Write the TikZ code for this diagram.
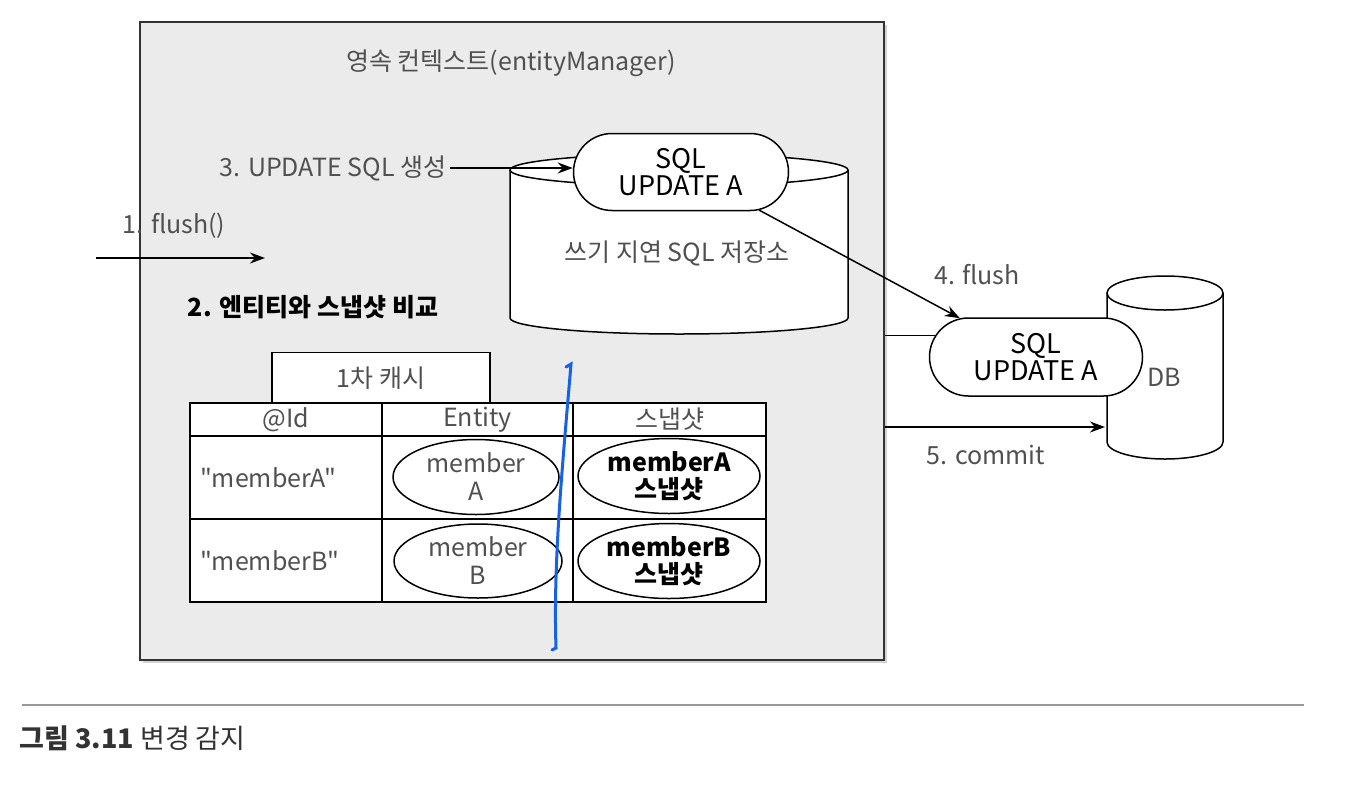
\documentclass[tikz,border=0pt]{standalone}
\usepackage{fontspec}
\setmainfont{Noto Sans CJK KR}[Ligatures=TeXOff]
\usetikzlibrary{shapes.geometric,shapes.misc,arrows.meta,shadows}
\definecolor{pcgray}{HTML}{EBEBEB}
\definecolor{txt}{HTML}{505050}
\definecolor{pen}{HTML}{1462E6}
% cylinder: centre x, top y, bottom y, x radius, y radius
\newcommand{\drum}[5]{%
  \draw[rim,fill=white] (#1-#4,#2) -- (#1-#4,#3) arc[start angle=180,end angle=0,x radius=#4,y radius=#5] -- (#1+#4,#2);
  \draw[rim,fill=white] (#1,#2) ellipse[x radius=#4,y radius=#5];}

\begin{document}
\begin{tikzpicture}[x=1pt,y=-1pt,font=\fontsize{25}{28}\selectfont,
    every node/.append style={text=txt},
    rim/.style={line width=1.5pt},
    box/.style={draw=black!80,line width=2.5pt,fill=pcgray,
      drop shadow={shadow xshift=3pt,shadow yshift=-3pt,opacity=.35}},
    pill/.style={rounded rectangle,draw,rim,fill=white,align=center,inner sep=0pt,
      text=black,font=\fontsize{27}{27}\selectfont},
    cell/.style={draw,line width=1.8pt,fill=white,inner sep=0pt},
    egg/.style={ellipse,draw,rim,fill=white,align=center,inner sep=0pt},
    arr/.style={-{Stealth[length=15pt,width=11pt]},line width=1.5pt}]
  \fill[white] (0,0) rectangle (1356,798);
  \useasboundingbox (0,0) rectangle (1356,798);
  % persistence context
  \node[box,minimum width=744pt,minimum height=638pt] (pc) at (512,341) {};
  \node (ttl) at (511,63) {영속 컨텍스트(entityManager)};
  % write-behind store
  \drum{679}{170}{318}{169}{16}
  \node (store) at (677,253) {쓰기 지연 SQL 저장소};
  \node[pill,minimum width=215pt,minimum height=77pt] (sql) at (681,172) {SQL\\UPDATE A};
  \node[anchor=east] (step3) at (450,168) {3. UPDATE SQL 생성};
  \draw[arr] (step3.east) -- (step3.east -| sql.west);
  \node (step1) at (174,226) {1. flush()};
  \coordinate (in0) at (96,258);
  \coordinate (in1) at (265,258);
  \draw[arr] (in0) -- (in1);
  \node[text=black,font=\fontsize{25}{28}\selectfont\bfseries] (step2) at (313,307) {2. 엔티티와 스냅샷 비교};
  % first-level cache
  \node[cell,minimum width=218pt,minimum height=51pt] (tab) at (381,378) {1차 캐시};
  \node[cell,minimum width=192pt,minimum height=33pt] (id0) at (286,419.5) {@Id};
  \node[cell,minimum width=191pt,minimum height=33pt] (ent0) at (477.5,419.5) {Entity};
  \node[cell,minimum width=193pt,minimum height=33pt] (snap0) at (669.5,419.5) {스냅샷};
  \node[cell,minimum width=192pt,minimum height=83pt,text width=172pt,align=left,inner xsep=10pt] (id1) at (286,477.5) {"memberA"};
  \node[cell,minimum width=191pt,minimum height=83pt] (ent1) at (477.5,477.5) {};
  \node[cell,minimum width=193pt,minimum height=83pt] (snap1) at (669.5,477.5) {};
  \node[cell,minimum width=192pt,minimum height=83pt,text width=172pt,align=left,inner xsep=10pt] (id2) at (286,560.5) {"memberB"};
  \node[cell,minimum width=191pt,minimum height=83pt] (ent2) at (477.5,560.5) {};
  \node[cell,minimum width=193pt,minimum height=83pt] (snap2) at (669.5,560.5) {};
  \node[egg,minimum width=166pt,minimum height=75pt] (ma) at (476,477) {member\\A};
  \node[egg,minimum width=168pt,minimum height=74pt] (mb) at (478,561) {member\\B};
  \node[egg,minimum width=182pt,minimum height=75pt,text=black,font=\fontsize{25}{27}\selectfont\bfseries] (sa) at (669,476) {memberA\\스냅샷};
  \node[egg,minimum width=182pt,minimum height=75pt,text=black,font=\fontsize{25}{27}\selectfont\bfseries] (sb) at (669,561) {memberB\\스냅샷};
  % database
  \drum{1165}{293}{442}{58}{17}
  \node[pill,minimum width=213pt,minimum height=78pt] (sql2) at (1036,357) {SQL\\UPDATE A};
  \node (dbl) at (1164,377) {DB};
  \draw[rim] (pc.east |- sql2.168) -- (sql2.168);
  \draw[arr] (sql.-26) -- (sql2.153);
  \node (step4) at (977,275) {4. flush};
  \coordinate (c5) at (1105,427);
  \draw[arr] (pc.east |- c5) -- (c5);
  \node (step5) at (986,455) {5. commit};
  % pen mark
  \draw[pen,line width=3pt,line cap=round] (566,367) -- (571,364) .. controls (563,460) and (553,560) .. (556,648) -- (552,650);
  % caption
  \draw[line width=1.5pt,black!40] (22,705) -- (1304,705);
  \node[anchor=west,text=black!80,font=\fontsize{27}{30}\selectfont] (cap) at (16,738) {\textbf{그림 3.11} 변경 감지};
\end{tikzpicture}
\end{document}
